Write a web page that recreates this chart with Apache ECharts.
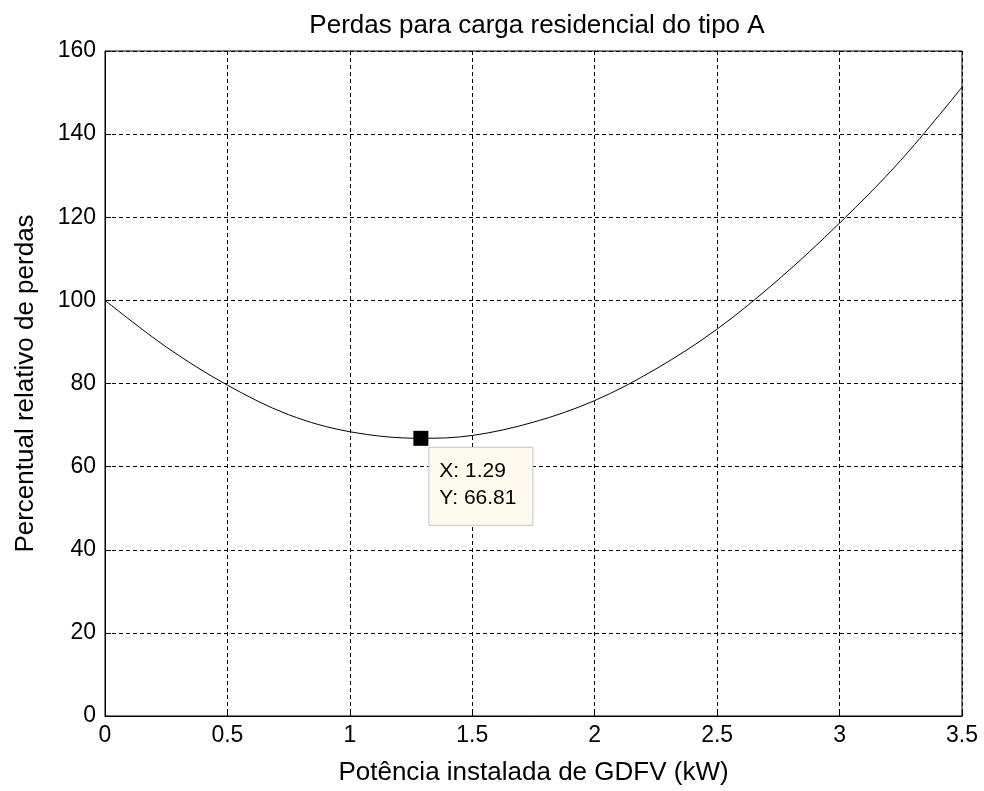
<!DOCTYPE html>
<html>
<head>
<meta charset="utf-8">
<title>Perdas para carga residencial do tipo A</title>
<script src="https://cdn.jsdelivr.net/npm/echarts@6/dist/echarts.min.js"></script>
<style>
  html, body { margin: 0; padding: 0; background: #ffffff; }
  #chart { width: 984px; height: 791px; }
</style>
</head>
<body>
<div id="chart"></div>
<script>
// Installed PV power (kW) and relative loss percentage
var potencia = [0, 0.25, 0.5, 0.75, 1.0, 1.29, 1.5, 1.75, 2.0, 2.25, 2.5, 2.75, 3.0, 3.25, 3.5];
var perdas   = [100, 88.8, 79.6, 72.5, 68.4, 66.81, 67.5, 70.7, 75.9, 83.5, 93.1, 105.0, 118.6, 133.7, 151.3];

// Highlighted data tip
var tipX = 1.29;
var tipY = 66.81;

// Axis settings
var xMin = 0, xMax = 3.5, xStep = 0.5;
var yMin = 0, yMax = 160, yStep = 20;

var tituloTexto = 'Perdas para carga residencial do tipo A';
var xNome = 'Potência instalada de GDFV (kW)';
var yNome = 'Percentual relativo de perdas';

var FONT = '"Liberation Sans", Arial, sans-serif';

var pontos = potencia.map(function (x, i) { return [x, perdas[i]]; });

var chart = echarts.init(document.getElementById('chart'), null, { renderer: 'canvas' });

var gridLine = { show: true, lineStyle: { color: '#000', width: 1, type: [4, 3] } };

chart.setOption({
  backgroundColor: '#ffffff',
  animation: false,
  title: {
    text: tituloTexto,
    left: 532,
    top: 8,
    textAlign: 'center',
    textStyle: { fontFamily: FONT, fontSize: 26, fontWeight: 'normal', color: '#000' }
  },
  grid: {
    left: 105, right: 22, top: 51, bottom: 72,
    show: true, borderColor: '#000', borderWidth: 1, backgroundColor: 'transparent'
  },
  xAxis: {
    type: 'value',
    min: xMin, max: xMax, interval: xStep,
    name: xNome,
    nameLocation: 'middle',
    nameGap: 44,
    nameTextStyle: { fontFamily: FONT, fontSize: 26, color: '#000' },
    axisLine: { show: true, onZero: false, lineStyle: { color: '#000', width: 1 } },
    axisTick: { show: true, inside: true, length: 6, lineStyle: { color: '#000' } },
    axisLabel: { fontFamily: FONT, fontSize: 23, color: '#000', margin: 8 },
    splitLine: gridLine
  },
  yAxis: {
    type: 'value',
    min: yMin, max: yMax, interval: yStep,
    name: yNome,
    nameLocation: 'middle',
    nameGap: 66,
    nameTextStyle: { fontFamily: FONT, fontSize: 26, color: '#000' },
    axisLine: { show: true, onZero: false, lineStyle: { color: '#000', width: 1 } },
    axisTick: { show: true, inside: true, length: 6, lineStyle: { color: '#000' } },
    axisLabel: { fontFamily: FONT, fontSize: 23, color: '#000', margin: 9 },
    splitLine: gridLine
  },
  series: [{
    type: 'line',
    data: pontos,
    smooth: 0.35,
    showSymbol: false,
    lineStyle: { color: '#000', width: 1 },
    markPoint: {
      symbol: 'rect',
      symbolSize: 15,
      itemStyle: { color: '#000' },
      data: [{
        coord: [tipX, tipY],
        label: {
          show: true,
          position: [16, 17],
          align: 'left',
          verticalAlign: 'top',
          formatter: 'X: ' + tipX.toFixed(2) + '\nY: ' + tipY.toFixed(2),
          fontFamily: FONT,
          fontSize: 21,
          lineHeight: 27,
          color: '#000',
          backgroundColor: '#fffaee',
          borderColor: '#c6c6c6',
          borderWidth: 1,
          padding: [10, 13, 13, 10],
          width: 80
        }
      }]
    }
  }]
});
</script>
</body>
</html>
